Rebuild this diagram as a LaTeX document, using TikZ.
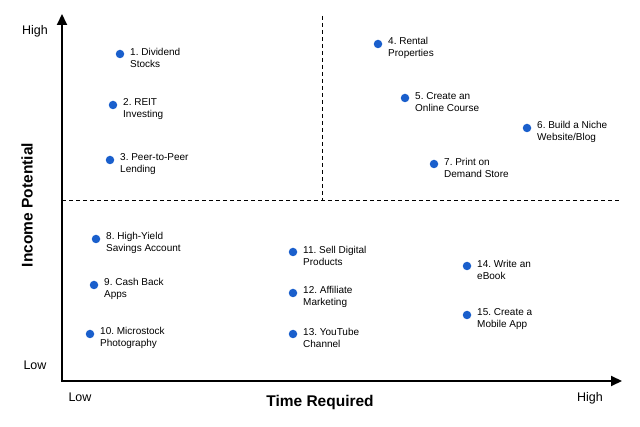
\documentclass[tikz,border=0pt]{standalone}
\usepackage{fontspec}
\setmainfont{Liberation Sans}
\usetikzlibrary{arrows.meta,positioning}
\definecolor{dotblue}{HTML}{1A5FCC}
\newcommand{\AxTip}{Triangle[length=11pt,width=10pt]}
\tikzset{item/.style={circle,fill=dotblue,inner sep=0pt,minimum size=8.5}}
\tikzset{itemtext/.style={anchor=west,align=left,inner sep=0pt,yshift=-4,font=\frenchspacing\fontsize{10}{12}\selectfont}}
\tikzset{ticktext/.style={inner sep=0pt,font=\fontsize{12.5}{14}\selectfont}}
\tikzset{axtitle/.style={inner sep=0pt,font=\bfseries\fontsize{15.5}{18}\selectfont}}
\tikzset{split/.style={dash pattern={on 4pt off 3pt},line width=.9}}

\begin{document}
\begin{tikzpicture}[x=1pt,y=-1pt]
\useasboundingbox(0,0)rectangle(640,427);
\coordinate(O)at(62,381);\coordinate(ytop)at(62,14);\coordinate(xend)at(622,381);
\coordinate(vtop)at(322,16);\coordinate(vbot)at(322,200);\coordinate(hl)at(62,200);\coordinate(hr)at(621,200);
\draw[split](vtop)--(vbot);\draw[split](hl)--(hr);
\draw[line width=2,-{\AxTip}](62,382)--(ytop);\draw[line width=2,-{\AxTip}](61,381)--(xend);
\node[ticktext](yhigh)at(35,31){High};\node[ticktext](ylow)at(35,365){Low};
\node[ticktext](xlow)at(80,397){Low};\node[ticktext](xhigh)at(590,398){High};
\node[axtitle,rotate=90](ytitle)at(27,205){Income Potential};\node[axtitle](xtitle)at(320,402){Time Required};
% items: name/x/y/text
\foreach \n/\x/\y/\t in {1/120/54/{1. Dividend\\Stocks},2/113/105/{2. REIT\\Investing},3/110/160/{3. Peer-to-Peer\\Lending},
 4/378/44/{4. Rental\\Properties},5/405/98/{5. Create an\\Online Course},6/527/128/{6. Build a Niche\\Website/Blog},7/434/164/{7. Print on\\Demand Store},
 8/96/239/{8. High-Yield\\Savings Account},9/94/285/{9. Cash Back\\Apps},10/90/334/{10. Microstock\\Photography},
 11/293/252/{11. Sell Digital\\Products},12/293/293/{12. Affiliate\\Marketing},13/293/334/{13. YouTube\\Channel},
 14/467/266/{14. Write an\\eBook},15/467/315/{15. Create a\\Mobile App}}
{\node[item](d\n)at(\x,\y){};\node[itemtext,right=10pt of d\n.center](t\n){\t};}
\end{tikzpicture}
\end{document}
